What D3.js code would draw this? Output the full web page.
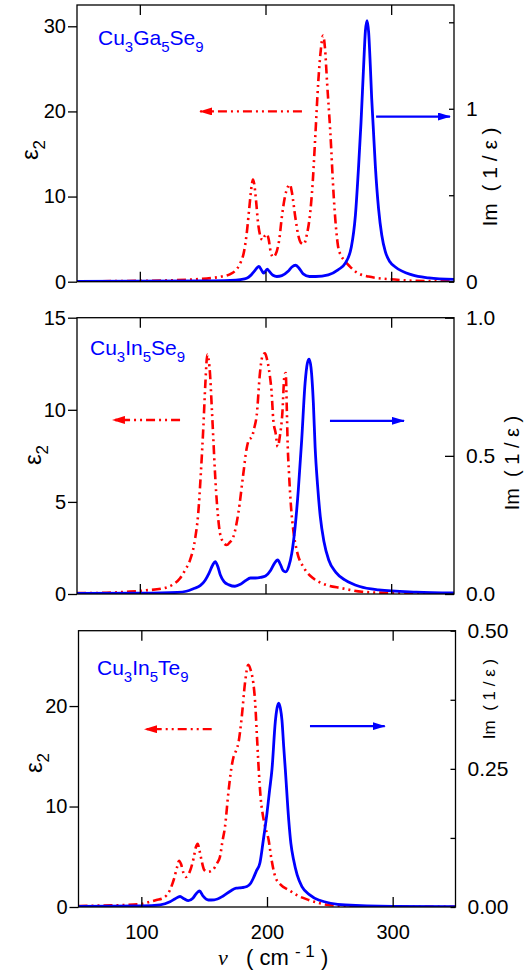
<!DOCTYPE html>
<html>
<head>
<meta charset="utf-8">
<script src="https://cdn.jsdelivr.net/npm/d3@7"></script>
<style>
  html, body { margin: 0; padding: 0; background: #fff; }
  svg { display: block; }
  text { font-family: "Liberation Sans", Arial, sans-serif; }
</style>
</head>
<body>
<svg id="chart" width="524" height="972"></svg>
<script>
// Wavenumber axis (cm^-1)
const nuDomain = [50, 350];
const nuTicks = [100, 200, 300];

// Cu3Ga5Se9: ε2 and Im(1/ε) as [ν, value]
const cgsEps2 = [
  [50,0.05],[100,0.1],[140,0.25],[158,0.45],[165,0.6],[172,0.9],[176,1.3],[180,2.2],
  [183,3.6],[185,5.6],[187,8.5],[189,11.3],[190,12.0],[191,11.5],[192.5,9.5],[194,7.0],
  [196,5.3],[197.6,4.9],[199.5,5.4],[201,5.6],[202.5,5.0],[204,3.6],[206,2.9],[208,3.2],
  [211,5.0],[213,7.6],[215.5,10.0],[218,11.2],[219.5,11.4],[221,10.5],[223.7,7.6],[226,5.5],
  [228,4.6],[230.4,4.4],[233,5.6],[235.5,8.0],[237.5,11.5],[239.6,17.0],[242,23.5],[244,27.2],
  [245.8,28.9],[247.3,27.5],[249,23.4],[251.6,17.5],[254.3,10.0],[256,6.5],[257.7,4.2],[260,3.1],
  [262.2,2.6],[267,1.8],[271.5,1.2],[282,0.6],[303,0.25],[320,0.1],[350,0.05]
];
const cgsLoss = [
  [50,0.002],[150,0.004],[172,0.007],[180,0.012],[185,0.02],[188,0.035],[191,0.06],[194.8,0.088],
  [197,0.065],[198.5,0.05],[201.4,0.072],[203,0.06],[206,0.037],[209,0.03],[213,0.035],[218,0.06],
  [221,0.085],[224,0.095],[227,0.075],[230,0.045],[235,0.03],[240,0.03],[250,0.04],[258,0.07],
  [263.5,0.107],[268.3,0.2],[271.5,0.38],[274.1,0.67],[276,0.92],[278.1,1.25],[279.5,1.45],[280.8,1.51],
  [282.1,1.44],[283.4,1.25],[284.5,1.06],[285.7,0.9],[287.4,0.67],[290,0.42],[292.5,0.27],
  [295.3,0.175],[299,0.115],[303.3,0.085],[316.6,0.039],[330,0.022],[350,0.013]
];

// Cu3In5Se9
const cisEps2 = [
  [50,0.05],[70,0.06],[92,0.13],[105,0.2],[118.7,0.31],[126,0.5],[132,0.85],[136,1.3],[140,1.85],
  [144,3.0],[146.5,4.4],[148.5,6.5],[150.5,9.0],[152.2,11.5],[153.7,13.0],[155,12.6],[155.8,12.0],
  [157.2,10.2],[158.5,8.4],[159.8,6.6],[161.6,4.7],[163.8,3.3],[166.5,2.8],[169.1,2.66],[171.5,2.8],
  [174.4,3.1],[178.4,4.4],[182.3,6.5],[185,7.9],[187,8.4],[189,8.5],[191,9.0],[193,9.7],[195.6,12.0],
  [197.5,12.9],[199.6,13.07],[201,12.8],[202.8,12.16],[204.9,10.9],[206.2,9.45],[208.1,8.72],
  [209.7,8.0],[211.5,8.6],[213.4,9.8],[215,11.8],[216.1,12.0],[216.9,10.2],[217.7,8.0],[218.7,6.55],
  [220.3,4.74],[222.1,3.47],[224.8,2.39],[230.9,1.39],[238,0.85],[245,0.58],[260.9,0.31],
  [276.8,0.12],[300,0.06],[350,0.03]
];
const cisLoss = [
  [50,0.002],[100,0.003],[130,0.006],[137,0.01],[143,0.02],[148,0.03],[152,0.05],[155,0.075],
  [158,0.105],[160,0.117],[162,0.1],[164,0.07],[167,0.045],[171,0.033],[175.7,0.028],[180,0.035],
  [184,0.048],[188,0.058],[192,0.058],[196,0.06],[200,0.065],[204,0.085],[207,0.11],[209.7,0.123],
  [212,0.105],[214,0.085],[216.1,0.08],[218.5,0.1],[220.9,0.147],[223.6,0.244],[226.1,0.376],
  [228.8,0.557],[231.5,0.763],[233.3,0.835],[234.7,0.85],[236.2,0.82],[238.1,0.69],[239.5,0.53],
  [241.5,0.39],[243.6,0.28],[246.5,0.19],[250.3,0.123],[256,0.078],[263.5,0.05],[275,0.027],
  [290,0.015],[320,0.007],[350,0.004]
];

// Cu3In5Te9
const citEps2 = [
  [50,0.1],[70,0.15],[88,0.2],[100,0.3],[107,0.53],[112,0.7],[117.5,0.9],[122.8,1.7],[126,2.8],
  [128.5,4.0],[130,4.6],[131.5,4.3],[133.5,3.4],[135.5,3.0],[138.5,3.5],[141.5,4.8],[143.5,6.0],
  [144.8,6.3],[146.5,5.5],[148,4.6],[150,3.7],[153,3.5],[157,3.7],[160,4.3],[162.6,5.0],[164.5,6.5],
  [166.6,8.0],[169.2,11.3],[171.5,13.7],[173.5,15.0],[175.5,15.6],[177.2,16.3],[179.9,18.9],
  [182.5,22.3],[185.1,24.1],[187.2,23.5],[189.1,22.3],[190.5,20.5],[192,17.0],[193.5,13.5],
  [195,10.8],[196.5,9.3],[198.5,8.0],[201.3,6.67],[203.5,4.8],[206.6,3.0],[211,2.2],[217.3,1.69],
  [225,1.1],[233.2,0.7],[249.1,0.2],[270,0.05],[300,0.02],[350,0.02]
];
const citLoss = [
  [50,0.001],[100,0.002],[115,0.004],[122.8,0.0096],[127,0.015],[130.8,0.019],[134,0.015],
  [137.4,0.0114],[141,0.016],[144,0.025],[146.3,0.029],[149,0.02],[153.3,0.0127],[158,0.013],
  [165.2,0.02],[171,0.029],[175.5,0.034],[180,0.035],[184,0.037],[187,0.043],[189.1,0.052],
  [191.5,0.065],[194.4,0.08],[197,0.12],[200,0.17],[202,0.21],[204,0.25],[206.6,0.335],[208,0.36],
  [209.3,0.369],[210.6,0.36],[211.9,0.338],[213.3,0.29],[214.6,0.248],[217.3,0.157],[219,0.115],
  [221.2,0.085],[224,0.058],[227.8,0.037],[234,0.022],[241.1,0.0127],[262.3,0.0036],[300,0.001],
  [350,0.0005]
];

// Axis ticks per panel
const cgsLeftTicks = [0, 10, 20, 30];
const cgsRightTicks = [0, 0.5, 1, 1.5];
const cgsRightLabels = ["0", "", "1", ""];
const cisLeftTicks = [0, 5, 10, 15];
const cisRightTicks = [0, 0.5, 1];
const cisRightLabels = ["0.0", "0.5", "1.0"];
const citLeftTicks = [0, 10, 20];
const citRightTicks = [0, 0.125, 0.25, 0.375, 0.5];
const citRightLabels = ["0.00", "", "0.25", "", "0.50"];

// Compound names: [text, isSubscript]
const cgsName = [["Cu",0],["3",1],["Ga",0],["5",1],["Se",0],["9",1]];
const cisName = [["Cu",0],["3",1],["In",0],["5",1],["Se",0],["9",1]];
const citName = [["Cu",0],["3",1],["In",0],["5",1],["Te",0],["9",1]];

// Axis-pointing arrows, in (ν, ε2) units: [from ν, to ν, level]
const cgsArrows = { red: [229, 148, 20.0], blue: [288, 346.8, 19.4] };
const cisArrows = { red: [132, 78.6, 9.45], blue: [251.3, 310.2, 9.4] };
const citArrows = { red: [156, 102.9, 17.7], blue: [234.2, 293.7, 18.0] };

const RED = "#ff0000", BLUE = "#0000ff";

const panels = [
  { x0: 77, x1: 454, y0: 5, y1: 281.7, leftMax: 32.5, rightMax: 1.6,
    eps: cgsEps2, loss: cgsLoss, leftTicks: cgsLeftTicks, rightTicks: cgsRightTicks,
    rightLabels: cgsRightLabels, name: cgsName, nameAt: [98, 45], arrows: cgsArrows,
    rTick: 5, epsLab: [38, 150], imLab: [497, 177, 21], showX: false },
  { x0: 77, x1: 454, y0: 317.7, y1: 594, leftMax: 15, rightMax: 1,
    eps: cisEps2, loss: cisLoss, leftTicks: cisLeftTicks, rightTicks: cisRightTicks,
    rightLabels: cisRightLabels, name: cisName, nameAt: [90, 355], arrows: cisArrows,
    rTick: 9, epsLab: [41, 455], imLab: [519, 463, 20], showX: false },
  { x0: 78.5, x1: 455.5, y0: 630.7, y1: 907, leftMax: 27.5, rightMax: 0.5,
    eps: citEps2, loss: citLoss, leftTicks: citLeftTicks, rightTicks: citRightTicks,
    rightLabels: citRightLabels, name: citName, nameAt: [97, 675], arrows: citArrows,
    rTick: 5, epsLab: [42, 763], imLab: [495, 699, 17], showX: true }
];

const svg = d3.select("#chart");
const defs = svg.append("defs");
[["headRed", RED], ["headBlue", BLUE]].forEach(([id, c]) => {
  defs.append("marker")
    .attr("id", id).attr("viewBox", "0 0 13 8")
    .attr("refX", 12).attr("refY", 4)
    .attr("markerWidth", 13).attr("markerHeight", 8)
    .attr("markerUnits", "userSpaceOnUse").attr("orient", "auto")
    .append("path").attr("d", "M0,0 L13,4 L0,8 Z").attr("fill", c);
});

panels.forEach((p, i) => {
  const x = d3.scaleLinear().domain(nuDomain).range([p.x0, p.x1]);
  const yL = d3.scaleLinear().domain([0, p.leftMax]).range([p.y1, p.y0]);
  const yR = d3.scaleLinear().domain([0, p.rightMax]).range([p.y1, p.y0]);
  const g = svg.append("g");

  defs.append("clipPath").attr("id", "clip" + i)
    .append("rect").attr("x", p.x0).attr("y", p.y0 - 2)
    .attr("width", p.x1 - p.x0).attr("height", p.y1 - p.y0 + 2);

  // curves
  const lineL = d3.line().x(d => x(d[0])).y(d => yL(d[1])).curve(d3.curveMonotoneX);
  const lineR = d3.line().x(d => x(d[0])).y(d => yR(d[1])).curve(d3.curveMonotoneX);
  const curves = g.append("g").attr("clip-path", `url(#clip${i})`);
  curves.append("path").datum(p.eps).attr("d", lineL)
    .attr("fill", "none").attr("stroke", RED).attr("stroke-width", 2.6)
    .attr("stroke-dasharray", "9,4,2,4,2,4");
  curves.append("path").datum(p.loss).attr("d", lineR)
    .attr("fill", "none").attr("stroke", BLUE).attr("stroke-width", 2.8)
    .attr("stroke-linejoin", "round");

  // frame
  g.append("rect").attr("x", p.x0).attr("y", p.y0)
    .attr("width", p.x1 - p.x0).attr("height", p.y1 - p.y0)
    .attr("fill", "none").attr("stroke", "#000").attr("stroke-width", 1.3);

  // x ticks pointing inward on bottom and top edges
  const xb = d3.axisBottom(x).tickValues(nuTicks).tickSizeInner(-10).tickSizeOuter(0)
    .tickFormat(p.showX ? d3.format("d") : () => "").tickPadding(18);
  const xt = d3.axisTop(x).tickValues(nuTicks).tickSizeInner(-10).tickSizeOuter(0).tickFormat(() => "");
  [g.append("g").attr("transform", `translate(0,${p.y1})`).call(xb),
   g.append("g").attr("transform", `translate(0,${p.y0})`).call(xt)].forEach(a => {
    a.select(".domain").remove();
    a.selectAll(".tick line").attr("stroke", "#000").attr("stroke-width", 1.3);
    a.selectAll("text").attr("font-size", 20).attr("fill", "#000")
      .attr("font-family", '"Liberation Sans", Arial, sans-serif');
  });

  // left axis, ticks outward
  const yl = g.append("g").attr("transform", `translate(${p.x0},0)`)
    .call(d3.axisLeft(yL).tickValues(p.leftTicks).tickSizeInner(9).tickSizeOuter(0)
      .tickPadding(2).tickFormat(d3.format("d")));
  yl.select(".domain").remove();
  yl.selectAll(".tick line").attr("stroke", "#000").attr("stroke-width", 1.3);
  yl.selectAll("text").attr("font-size", 20).attr("fill", "#000")
    .attr("font-family", '"Liberation Sans", Arial, sans-serif');

  // right axis, ticks inward
  const yr = g.append("g").attr("transform", `translate(${p.x1},0)`)
    .call(d3.axisRight(yR).tickValues(p.rightTicks).tickSizeInner(-p.rTick).tickSizeOuter(0)
      .tickPadding(12).tickFormat((d, k) => p.rightLabels[k]));
  yr.select(".domain").remove();
  yr.selectAll(".tick line").attr("stroke", "#000").attr("stroke-width", 1.3);
  yr.selectAll("text").attr("font-size", 21).attr("fill", "#000")
    .attr("font-family", '"Liberation Sans", Arial, sans-serif');

  // ε2 title
  const et = g.append("text")
    .attr("transform", `translate(${p.epsLab[0]},${p.epsLab[1]}) rotate(-90)`)
    .attr("text-anchor", "middle").attr("font-size", 24).attr("fill", "#000");
  et.append("tspan").text("ε");
  et.append("tspan").attr("font-size", 17).attr("dy", 7).text("2");

  // Im(1/ε) title
  g.append("text")
    .attr("transform", `translate(${p.imLab[0]},${p.imLab[1]}) rotate(-90)`)
    .attr("text-anchor", "middle").attr("font-size", p.imLab[2]).attr("fill", "#000")
    .attr("xml:space", "preserve")
    .text("Im  ( 1 / ε )");

  // compound name
  const nt = g.append("text").attr("x", p.nameAt[0]).attr("y", p.nameAt[1])
    .attr("fill", BLUE).attr("font-size", 21);
  let prevSub = 0;
  p.name.forEach(([s, sub]) => {
    nt.append("tspan").attr("font-size", sub ? 15 : 21)
      .attr("dy", sub === prevSub ? 0 : (sub ? 7 : -7)).text(s);
    prevSub = sub;
  });

  // arrows pointing to the axis each curve belongs to
  const ar = p.arrows;
  g.append("line")
    .attr("x1", x(ar.red[0])).attr("x2", x(ar.red[1]))
    .attr("y1", yL(ar.red[2])).attr("y2", yL(ar.red[2]))
    .attr("stroke", RED).attr("stroke-width", 2.4)
    .attr("stroke-dasharray", "9,4,2,4,2,4").attr("marker-end", "url(#headRed)");
  g.append("line")
    .attr("x1", x(ar.blue[0])).attr("x2", x(ar.blue[1]))
    .attr("y1", yL(ar.blue[2])).attr("y2", yL(ar.blue[2]))
    .attr("stroke", BLUE).attr("stroke-width", 2.2).attr("marker-end", "url(#headBlue)");

  if (p.showX) {
    const xtitle = g.append("text").attr("x", 218).attr("y", 965)
      .attr("font-size", 22).attr("fill", "#000").attr("xml:space", "preserve");
    xtitle.append("tspan").attr("font-family", '"Liberation Serif", "Times New Roman", serif')
      .attr("font-style", "italic").text("ν");
    xtitle.append("tspan").text("   ( cm ");
    xtitle.append("tspan").attr("font-size", 17).attr("dy", -8).text("- 1");
    xtitle.append("tspan").attr("dy", 8).text(" )");
  }
});
</script>
</body>
</html>
